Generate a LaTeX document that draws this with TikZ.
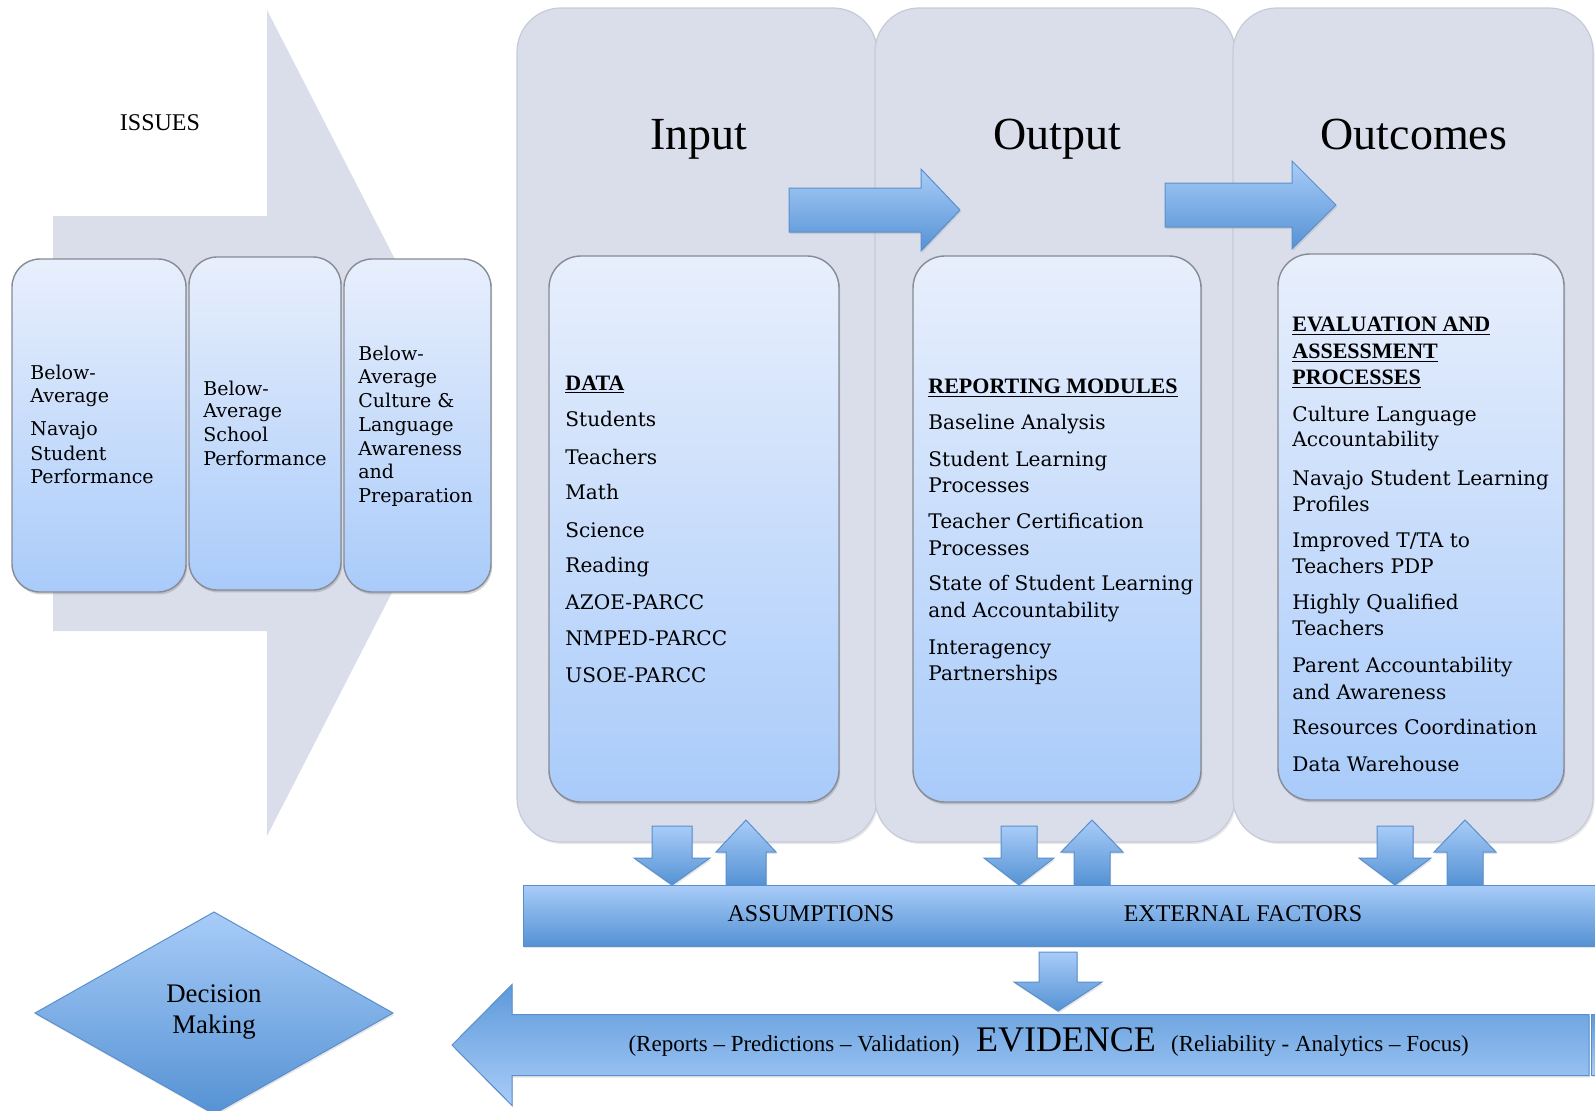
\documentclass[tikz,border=0pt]{standalone}
\usepackage{fontspec}
\setmainfont{DejaVu Serif}
\newfontfamily\narrowfont[Ligatures=TeX]{Liberation Serif}
\usetikzlibrary{shadows}

\definecolor{colfill}{HTML}{D9DEEA}
\definecolor{colline}{HTML}{C6CBD7}
\definecolor{boxtop}{HTML}{E8EFFC}
\definecolor{boxbot}{HTML}{A9CBFA}
\definecolor{boxline}{HTML}{868B95}
\definecolor{arrtop}{HTML}{A8CCF8}
\definecolor{arrbot}{HTML}{5592D4}
\definecolor{arrline}{HTML}{5B8FCB}
\definecolor{evtop}{HTML}{5E9ADA}
\definecolor{evbot}{HTML}{A8CCF8}

% vertical block arrow: centre x, base y, shaft half width, head half width, head base y, tip y
\newcommand\VBlock[6]{%
  \path[blockarrow] ({#1-#3},#2) -- ({#1+#3},#2) -- ({#1+#3},#5) -- ({#1+#4},#5)
    -- (#1,#6) -- ({#1-#4},#5) -- ({#1-#3},#5) -- cycle;}
% horizontal block arrow: centre y, base x, shaft half height, head half height, head base x, tip x
\newcommand\HBlock[7][blockarrow]{%
  \path[#1] (#3,{#2-#4}) -- (#6,{#2-#4}) -- (#6,{#2-#5}) -- (#7,#2)
    -- (#6,{#2+#5}) -- (#6,{#2+#4}) -- (#3,{#2+#4}) -- cycle;}

\begin{document}
\begin{tikzpicture}[x=0.5pt, y=-0.5pt,
  column/.style={fill=colfill, draw=colline, line width=0.6pt, rounded corners=22pt,
    drop shadow={shadow xshift=0.8pt, shadow yshift=-1pt, opacity=0.18}},
  panel/.style={top color=boxtop, bottom color=boxbot, draw=boxline, line width=0.7pt,
    drop shadow={shadow xshift=0.6pt, shadow yshift=-1.2pt, opacity=0.35}},
  blockarrow/.style={top color=arrtop, bottom color=arrbot, draw=arrline, line width=0.5pt,
    drop shadow={shadow xshift=0.5pt, shadow yshift=-1pt, opacity=0.2}},
  evarrow/.style={top color=evtop, bottom color=evbot, draw=arrline, line width=0.5pt,
    drop shadow={shadow xshift=0.5pt, shadow yshift=-1pt, opacity=0.2}},
  itemtxt/.style={font=\fontsize{10.05}{13}\selectfont, inner sep=0pt, anchor=base west},
  hdrtxt/.style={font=\narrowfont\bfseries\fontsize{11}{13}\selectfont, inner sep=0pt, anchor=base west},
  issuetxt/.style={font=\fontsize{9.5}{12}\selectfont, inner sep=0pt, anchor=base west},
  heading/.style={font=\narrowfont\fontsize{23}{27}\selectfont, inner sep=0pt, anchor=base},
  label/.style={font=\narrowfont\fontsize{12}{14}\selectfont, inner sep=0pt, anchor=base},
]
\path[use as bounding box] (0,0) rectangle (1595,1110);
\clip (0,0) rectangle (1595,1110);

% ---- issues: large background arrow and three boxes
\fill[colfill] (53,216) -- (267,216) -- (267,10) -- (479,423) -- (267,836) -- (267,631) -- (53,631) -- cycle;
\node[font=\narrowfont\fontsize{12}{14}\selectfont, anchor=base, inner sep=0pt] (issues) at (160,130) {ISSUES};

\path[panel, rounded corners=14pt] (12,259) rectangle (186,592);
\path[panel, rounded corners=14pt] (189,257) rectangle (341,590);
\path[panel, rounded corners=14pt] (344,259) rectangle (491,592);

\foreach \n/\y/\t in {1/379/Below-, 2/402/Average, 3/435/Navajo, 4/460/Student, 5/483/Performance}
  \node[issuetxt] (isa\n) at (30,\y) {\t};
\foreach \n/\y/\t in {1/395/Below-, 2/417/Average, 3/441/School, 4/465/Performance}
  \node[issuetxt] (isb\n) at (203,\y) {\t};
\foreach \n/\y/\t in {1/360/Below-, 2/383/Average, 3/407/Culture \&, 4/431/Language, 5/455/Awareness, 6/478/and, 7/502/Preparation}
  \node[issuetxt] (isc\n) at (358,\y) {\t};

% ---- logic model columns
\path[column] (517,8) rectangle (877,842);
\path[column] (875,8) rectangle (1235,842);
\path[column] (1233,8) rectangle (1593,842);

\node[heading] (input) at (699,149) {Input};
\node[heading] (output) at (1057,149) {Output};
\node[heading] (outcomes) at (1414,149) {Outcomes};

% inner panels
\path[panel, rounded corners=16pt] (549,256) rectangle (839,802);
\path[panel, rounded corners=16pt] (913,256) rectangle (1201,802);
\path[panel, rounded corners=16pt] (1278,254) rectangle (1564,800);

% flow arrows between columns
\HBlock{210}{789}{22}{41}{921}{960}
\HBlock{205}{1165}{22}{44}{1292}{1336}

% input panel text
\node[hdrtxt] (data) at (565,390) {\underline{DATA}};
\foreach \n/\y/\t in {1/426/Students, 2/464/Teachers, 3/499/Math, 4/537/Science, 5/572/Reading,
    6/609/AZOE-PARCC, 7/645/NMPED-PARCC, 8/682/USOE-PARCC}
  \node[itemtxt] (in\n) at (565,\y) {\t};

% output panel text
\node[hdrtxt] (reporting) at (928,393) {\underline{REPORTING MODULES}};
\foreach \n/\y/\t in {1/429/Baseline Analysis, 2/466/Student Learning, 3/492/Processes,
    4/528/Teacher Certification, 5/555/Processes, 6/590/State of Student Learning,
    7/617/and Accountability, 8/654/Interagency, 9/680/Partnerships}
  \node[itemtxt] (out\n) at (928,\y) {\t};

% outcomes panel text
\node[hdrtxt] (evalA) at (1292,331) {\underline{EVALUATION AND}};
\node[hdrtxt] (evalB) at (1292,358) {\underline{ASSESSMENT}};
\node[hdrtxt] (evalC) at (1292,384) {\underline{PROCESSES}};
\foreach \n/\y/\t in {1/421/Culture Language, 2/446/Accountability, 3/485/Navajo Student Learning,
    4/511/Profiles, 5/547/{Improved T/TA to}, 6/573/Teachers PDP, 7/609/Highly Qualified,
    8/635/Teachers, 9/672/Parent Accountability, 10/699/and Awareness,
    11/734/Resources Coordination, 12/771/Data Warehouse}
  \node[itemtxt] (oc\n) at (1292,\y) {\t};

% ---- exchange arrows with the assumptions bar
\VBlock{672}{826}{20}{38}{858}{885}
\VBlock{746}{885}{20}{30}{852}{820}
\VBlock{1019}{826}{18}{35}{858}{885}
\VBlock{1092}{885}{18}{31}{852}{820}
\VBlock{1395}{826}{18}{36}{858}{885}
\VBlock{1465}{885}{18}{31}{852}{820}

% assumptions / external factors bar
\path[blockarrow] (523,885) rectangle (1600,946);
\node[label] (assump) at (811,921) {ASSUMPTIONS};
\node[label] (external) at (1243,921) {EXTERNAL FACTORS};

% down to evidence
\VBlock{1058}{952}{19}{44}{982}{1011}

% ---- evidence arrow
\HBlock[evarrow]{1045}{1589}{30.5}{60.5}{512}{452}
\path[evarrow] (1591,1014) rectangle (1602,1075);
\node[font=\narrowfont\fontsize{11.5}{14}\selectfont, anchor=base, inner sep=0pt] (evl) at (794,1051) {(Reports – Predictions – Validation)};
\node[font=\narrowfont\fontsize{18}{21}\selectfont, anchor=base, inner sep=0pt] (evidence) at (1066,1051) {EVIDENCE};
\node[font=\narrowfont\fontsize{11.5}{14}\selectfont, anchor=base, inner sep=0pt] (evr) at (1320,1051) {(Reliability - Analytics – Focus)};

% ---- decision making
\path[blockarrow] (214,912) -- (393,1013) -- (214,1114) -- (35,1013) -- cycle;
\node[font=\narrowfont\fontsize{13.4}{15.8}\selectfont, align=center, inner sep=0pt] (decision) at (214,1012) {Decision\\Making};
\end{tikzpicture}
\end{document}
